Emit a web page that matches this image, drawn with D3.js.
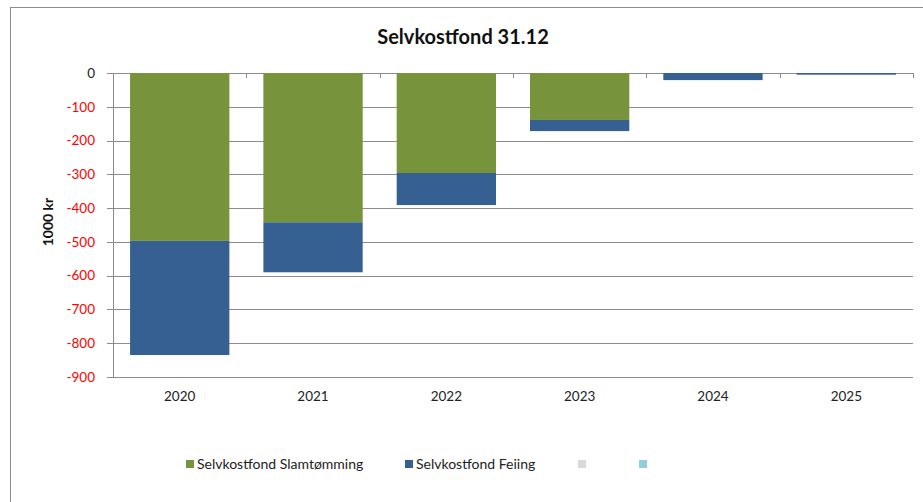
<!DOCTYPE html>
<html>
<head>
<meta charset="utf-8">
<script src="https://cdn.jsdelivr.net/npm/d3@7"></script>
<style>
  html, body { margin: 0; padding: 0; background: #fff; }
  svg { display: block; font-family: Lato, "Open Sans", sans-serif; }
</style>
</head>
<body>
<div id="chart"></div>
<script>
// data (1000 kr)
const years = ["2020", "2021", "2022", "2023", "2024", "2025"];
const slamtomming = [-497, -442, -296, -139, 0, 0];
const feiing = [-338, -148, -95, -33, -21, -5];
const yTicks = [0, -100, -200, -300, -400, -500, -600, -700, -800, -900];

const series = [
  { name: "Selvkostfond Slamtømming", color: "#77933c", values: slamtomming },
  { name: "Selvkostfond Feiing", color: "#376092", values: feiing },
  { name: "", color: "#d9d9d9", values: [] },
  { name: "", color: "#93cddd", values: [] }
];

const width = 923, height = 502;
const margin = { top: 73, right: 10, bottom: 125, left: 113 };
const innerW = width - margin.left - margin.right;
const innerH = height - margin.top - margin.bottom;

const svg = d3.select("#chart").append("svg")
  .attr("width", width)
  .attr("height", height);

// chart frame
svg.append("rect")
  .attr("x", 10.5).attr("y", 7.5)
  .attr("width", 940).attr("height", 520)
  .attr("fill", "none")
  .attr("stroke", "#8c8c8c");

svg.append("text")
  .attr("x", 463).attr("y", 44)
  .attr("text-anchor", "middle")
  .attr("font-size", 20)
  .attr("font-weight", "bold")
  .attr("fill", "#111")
  .text("Selvkostfond 31.12");

const g = svg.append("g").attr("transform", `translate(${margin.left},${margin.top})`);

const x = d3.scaleBand().domain(years).range([0, innerW]).paddingInner(0.255).paddingOuter(0.128);
const xb = d3.scaleBand().domain(years).range([0, innerW]);
const y = d3.scaleLinear().domain([0, -900]).range([0, innerH]);

// gridlines
g.append("g")
  .selectAll("line")
  .data(yTicks)
  .join("line")
  .attr("x1", -6).attr("x2", innerW)
  .attr("y1", d => Math.round(y(d)) + 0.5)
  .attr("y2", d => Math.round(y(d)) + 0.5)
  .attr("stroke", "#8c8c8c");

// y axis line
g.append("line")
  .attr("x1", 0.5).attr("x2", 0.5)
  .attr("y1", 0).attr("y2", innerH)
  .attr("stroke", "#8c8c8c");

// y labels
g.append("g")
  .selectAll("text")
  .data(yTicks)
  .join("text")
  .attr("x", -18)
  .attr("y", d => y(d))
  .attr("dy", "0.35em")
  .attr("text-anchor", "end")
  .attr("font-size", 13.5)
  .attr("fill", d => d === 0 ? "#222" : "#ff0000")
  .text(d => d);

svg.append("text")
  .attr("transform", "translate(53,222) rotate(-90)")
  .attr("text-anchor", "middle")
  .attr("font-size", 14)
  .attr("font-weight", "bold")
  .attr("fill", "#111")
  .text("1000 kr");

// stacked bars
const stackData = years.map((yr, i) => ({ year: yr, s0: slamtomming[i], s1: feiing[i] }));
const stacked = d3.stack().keys(["s0", "s1"]).offset(d3.stackOffsetDiverging)(stackData);

g.append("g")
  .selectAll("g")
  .data(stacked)
  .join("g")
  .attr("fill", (d, i) => series[i].color)
  .selectAll("rect")
  .data(d => d)
  .join("rect")
  .attr("x", d => x(d.data.year))
  .attr("width", x.bandwidth())
  .attr("y", d => y(Math.max(d[0], d[1])))
  .attr("height", d => Math.abs(y(d[1]) - y(d[0])));

// category tick marks on zero line
g.append("g")
  .selectAll("line")
  .data(years.concat(["end"]))
  .join("line")
  .attr("x1", (d, i) => Math.round(i * xb.step()) + 0.5)
  .attr("x2", (d, i) => Math.round(i * xb.step()) + 0.5)
  .attr("y1", y(0)).attr("y2", y(0) + 5)
  .attr("stroke", "#8c8c8c");

// x labels at bottom
g.append("g")
  .selectAll("text")
  .data(years)
  .join("text")
  .attr("x", d => xb(d) + xb.bandwidth() / 2)
  .attr("y", innerH + 24)
  .attr("text-anchor", "middle")
  .attr("font-size", 13.5)
  .attr("fill", "#222")
  .text(d => d);

// legend
const legendX = [186, 405, 578, 639];
const legend = svg.append("g").attr("transform", "translate(0,464)");
series.forEach((s, i) => {
  legend.append("rect")
    .attr("x", legendX[i]).attr("y", -4)
    .attr("width", 8).attr("height", 8)
    .attr("fill", s.color);
  legend.append("text")
    .attr("x", legendX[i] + 11)
    .attr("y", 0)
    .attr("dy", "0.35em")
    .attr("font-size", 14)
    .attr("fill", "#222")
    .text(s.name);
});
</script>
</body>
</html>
